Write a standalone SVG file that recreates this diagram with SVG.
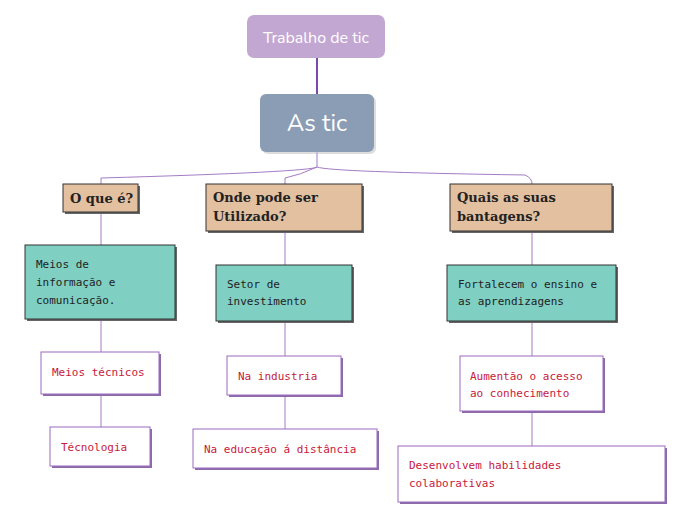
<svg xmlns="http://www.w3.org/2000/svg" width="696" height="520" viewBox="0 0 696 520">
<style>
.h{fill:#e2c0a0;stroke:#333;stroke-width:1}
.hs{fill:#666}
.t{fill:#7fcfc2;stroke:#333;stroke-width:1}
.w{fill:#fff;stroke:#9b6bbf;stroke-width:1}
.ws{fill:#8b6aa8}
.ht{font-family:"DejaVu Serif",serif;font-weight:bold;font-size:13px;fill:#222}
.mt{font-family:"DejaVu Sans Mono","Liberation Mono",monospace;font-size:11px;fill:#222}
.rt{font-family:"DejaVu Sans Mono","Liberation Mono",monospace;font-size:11px;fill:#c8193c}
.c{fill:none;stroke:#a47cc6;stroke-width:1}
</style>
<g id="connectors">
<path d="M317 58 V94" stroke="#7a4aa8" stroke-width="2" fill="none"/>
<path class="c" d="M317 152 V167 Q310 172 101 178 V184"/>
<path class="c" d="M317 167 Q300 175 285 178 V184"/>
<path class="c" d="M317 167 Q330 172 525 175 Q532 178 532 184"/>
<path class="c" d="M101 212 V245 M101 319 V352 M101 394 V427"/>
<path class="c" d="M285 231 V265 M285 321 V356 M285 395 V429"/>
<path class="c" d="M532 231 V265 M532 321 V356 M532 411 V446"/>
</g>
<g id="root"><rect x="247" y="15" width="138" height="43" rx="7" fill="#c3a7d3"/><text x="316" y="43" text-anchor="middle" font-family="Nunito,'Noto Sans',sans-serif" font-size="16" fill="#fff">Trabalho de tic</text></g>
<g id="astic"><rect x="262" y="96" width="114" height="58" rx="6" fill="#bbb" opacity="0.5"/><rect x="260" y="94" width="114" height="58" rx="6" fill="#8a9db5"/><text x="317" y="131" text-anchor="middle" font-family="Nunito,'Noto Sans',sans-serif" font-size="24" fill="#fff">As tic</text></g>
<g id="n1"><rect class="hs" x="65" y="186" width="75" height="28"/><rect class="h" x="63" y="184" width="75" height="28"/><text class="ht" x="70" y="203">O que é?</text></g>
<g id="n2"><rect class="hs" x="208" y="186" width="156" height="47"/><rect class="h" x="206" y="184" width="156" height="47"/><text class="ht" x="213" y="202">Onde pode ser</text><text class="ht" x="213" y="221">Utilizado?</text></g>
<g id="n3"><rect class="hs" x="452" y="186" width="162" height="47"/><rect class="h" x="450" y="184" width="162" height="47"/><text class="ht" x="457" y="202">Quais as suas</text><text class="ht" x="457" y="221">bantagens?</text></g>
<g id="t1"><rect class="hs" x="27" y="247" width="150" height="74"/><rect class="t" x="25" y="245" width="150" height="74"/><text class="mt" x="36" y="268">Meios de</text><text class="mt" x="36" y="286">informação e</text><text class="mt" x="36" y="304">comunicação.</text></g>
<g id="t2"><rect class="hs" x="218" y="267" width="136" height="56"/><rect class="t" x="216" y="265" width="136" height="56"/><text class="mt" x="227" y="288">Setor de</text><text class="mt" x="227" y="305">investimento</text></g>
<g id="t3"><rect class="hs" x="449" y="267" width="169" height="56"/><rect class="t" x="447" y="265" width="169" height="56"/><text class="mt" x="458" y="288">Fortalecem o ensino e</text><text class="mt" x="458" y="305">as aprendizagens</text></g>
<g id="w1"><rect class="ws" x="43" y="354" width="118" height="42"/><rect class="w" x="41" y="352" width="118" height="42"/><text class="rt" x="52" y="376">Meios técnicos</text></g>
<g id="w2"><rect class="ws" x="52" y="429" width="100" height="39"/><rect class="w" x="50" y="427" width="100" height="39"/><text class="rt" x="61" y="451">Técnologia</text></g>
<g id="w3"><rect class="ws" x="229" y="358" width="114" height="39"/><rect class="w" x="227" y="356" width="114" height="39"/><text class="rt" x="238" y="380">Na industria</text></g>
<g id="w4"><rect class="ws" x="195" y="431" width="184" height="39"/><rect class="w" x="193" y="429" width="184" height="39"/><text class="rt" x="204" y="453">Na educação á distância</text></g>
<g id="w5"><rect class="ws" x="462" y="358" width="143" height="55"/><rect class="w" x="460" y="356" width="143" height="55"/><text class="rt" x="470" y="380">Aumentão o acesso</text><text class="rt" x="470" y="397">ao conhecimento</text></g>
<g id="w6"><rect class="ws" x="400" y="448" width="267" height="56"/><rect class="w" x="398" y="446" width="267" height="56"/><text class="rt" x="409" y="469">Desenvolvem habilidades</text><text class="rt" x="409" y="487">colaborativas</text></g>
</svg>
